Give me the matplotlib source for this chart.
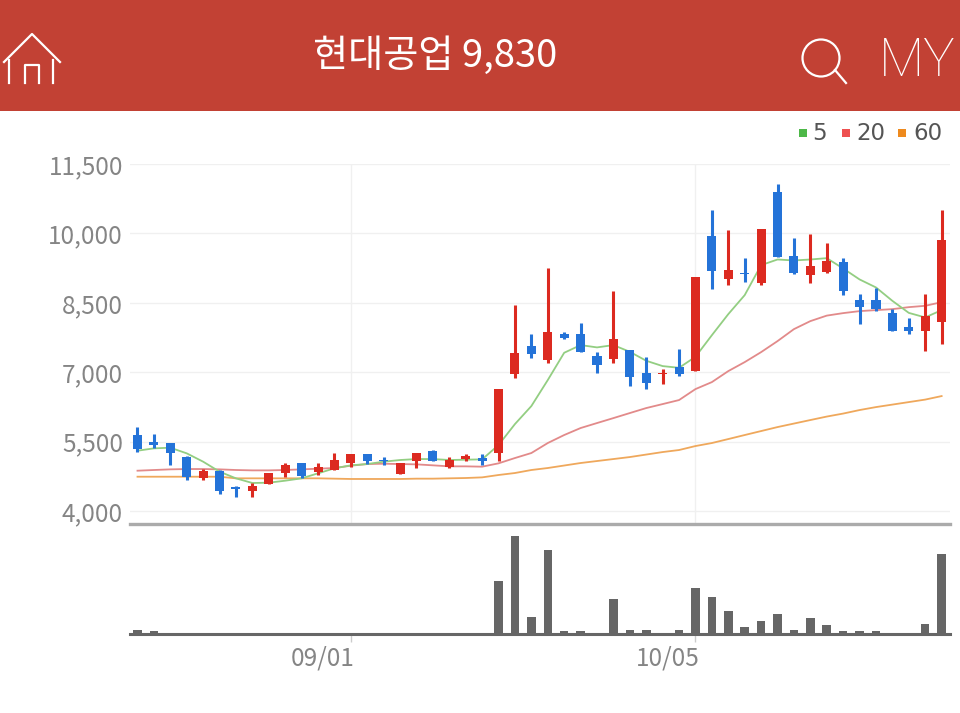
import matplotlib
matplotlib.use("Agg")
import matplotlib.pyplot as plt
from matplotlib.patches import Rectangle, Circle

plt.rcParams['font.family'] = ['Noto Sans CJK KR', 'DejaVu Sans']

title = "현대공업 9,830"
price_ticks = [4000, 5500, 7000, 8500, 10000, 11500]
date_ticks = [13, 34]
date_labels = ["09/01", "10/05"]

opens = [5642, 5497, 5475, 5173, 4706, 4864, 4512, 4432, 4577, 4827, 5043, 4849, 4892, 5043, 5225, 5108,
         4799, 5080, 5289, 4944, 5117, 5138, 5246, 6959, 7571, 7262, 7823, 7817, 7348, 7290, 7471, 6975,
         6953, 7117, 7017, 9940, 9011, 9134, 8918, 10897, 9508, 9104, 9169, 9378, 8558, 8558, 8283, 7974,
         7888, 8082]
closes = [5339, 5426, 5246, 4728, 4864, 4432, 4475, 4540, 4814, 5000, 4762, 4944, 5095, 5225, 5080, 5074,
          5030, 5259, 5080, 5102, 5188, 5086, 6635, 7406, 7391, 7873, 7743, 7428, 7147, 7722, 6901, 6771,
          6987, 6959, 9061, 9177, 9199, 9113, 10098, 9486, 9134, 9285, 9406, 8758, 8400, 8357, 7894, 7881,
          8218, 9847]
highs = [5821, 5663, 5475, 5194, 4907, 4886, 4540, 4598, 4814, 5043, 5043, 5043, 5259, 5225, 5225, 5173,
         5030, 5259, 5318, 5173, 5231, 5225, 6635, 8450, 7817, 9255, 7873, 8067, 7441, 8752, 7471, 7320,
         7067, 7506, 9061, 10502, 10063, 9471, 10098, 11063, 9903, 9977, 9782, 9471, 8687, 8823, 8357, 8162,
         8687, 10502]
lows = [5281, 5354, 4994, 4670, 4670, 4361, 4296, 4296, 4577, 4728, 4719, 4771, 4892, 4957, 5015, 4994,
        4799, 4922, 5080, 4922, 5074, 4994, 5074, 6866, 7298, 7203, 7709, 7428, 6987, 7203, 6706, 6635,
        6737, 6922, 7017, 8802, 8882, 8953, 8888, 9486, 9113, 8918, 9147, 8666, 8039, 8327, 7894, 7823,
        7456, 7614]

ma5 = [5303, 5354, 5368, 5246, 5066, 4850, 4706, 4605, 4612, 4655, 4706, 4814, 4922, 4987, 5015, 5066,
       5102, 5123, 5123, 5102, 5109, 5116, 5426, 5879, 6268, 6830, 7420, 7586, 7536, 7586, 7441, 7247,
       7132, 7095, 7333, 7800, 8255, 8666, 9314, 9436, 9415, 9436, 9465, 9242, 9005, 8832, 8542, 8282,
       8184, 8342]
ma20 = [4871, 4886, 4900, 4907, 4907, 4900, 4886, 4878, 4878, 4886, 4900, 4914, 4929, 4979, 5015, 5022,
        5015, 5008, 4987, 4965, 4965, 4958, 5030, 5145, 5253, 5469, 5642, 5793, 5901, 6008, 6117, 6225,
        6311, 6398, 6635, 6786, 7024, 7218, 7434, 7672, 7931, 8104, 8223, 8277, 8320, 8342, 8363, 8406,
        8435, 8514]
ma60 = [4741, 4741, 4741, 4741, 4741, 4741, 4706, 4706, 4706, 4706, 4706, 4706, 4699, 4692, 4692, 4692,
        4692, 4699, 4699, 4706, 4713, 4727, 4778, 4821, 4886, 4929, 4983, 5037, 5080, 5123, 5166, 5220,
        5274, 5318, 5404, 5469, 5555, 5642, 5728, 5814, 5890, 5966, 6041, 6106, 6182, 6246, 6300, 6354,
        6408, 6484]

volume = [4, 2.7, 0, 0, 0, 0, 0, 0, 0, 0, 0, 0, 0, 0, 0, 0, 0, 0, 0, 0, 0, 0,
          53, 98, 17, 84, 2.7, 2.7, 0, 35, 4, 4, 0, 4, 46, 37, 23, 7, 13, 20, 4, 16, 9, 2.7, 2.7, 2.7,
          0, 0, 10, 80]

legend_names = ["5", "20", "60"]
legend_colors = ["#4DB848", "#EE5050", "#EE8A1E"]

RED = "#DC2A20"
BLUE = "#2473D8"
W, H = 960, 713

fig = plt.figure(figsize=(9.6, 7.13), dpi=100, facecolor="white")

# page furniture in pixel coords
bg = fig.add_axes([0, 0, 1, 1])
bg.set_xlim(0, W)
bg.set_ylim(H, 0)
bg.axis("off")
bg.add_patch(Rectangle((0, 0), W, 111, color="#C24134", lw=0))
bg.text(435, 56, title, color="white", fontsize=27.5, ha="center", va="center")

home = [([4, 32, 60], [62, 34, 62]), ([9, 9], [60, 83]), ([53, 53], [60, 83]),
        ([25, 25, 39, 39], [83, 65, 65, 83])]
for hx, hy in home:
    bg.plot(hx, hy, color="white", lw=1.6)
bg.add_patch(Circle((821, 58), 18.5, fill=False, ec="white", lw=1.6))
bg.plot([835, 846], [70, 83], color="white", lw=1.6)
bg.text(917, 61, "MY", color="white", fontsize=38, ha="center", va="center",
        family="Roboto", fontweight="light")

for name, col, sx, tx in zip(legend_names, legend_colors, [803, 846, 902], [819, 871, 928]):
    bg.add_patch(Rectangle((sx - 4, 129), 8, 8, color=col, lw=0))
    bg.text(tx, 133, name, color="#555555", fontsize=16.5, ha="center", va="center", family="DejaVu Sans")

# candle panel
ax = fig.add_axes([130 / W, 1 - 524 / H, 820 / W, 360 / H])
ax.set_xlim(-0.457, 49.51)
ax.set_ylim(3719, 11500)
ax.patch.set_alpha(0)
for s in ax.spines.values():
    s.set_visible(False)
ax.spines["bottom"].set_visible(True)
ax.spines["bottom"].set_color("#ABABAB")
ax.spines["bottom"].set_linewidth(2.4)

ax.set_yticks(price_ticks)
ax.set_yticklabels(["{:,}".format(p) for p in price_ticks], color="#858585", fontsize=17.5)
ax.tick_params(axis="y", length=0, pad=5)
for lab in ax.get_yticklabels():
    lab.set_y(lab.get_position()[1])
ax.set_xticks(date_ticks)
ax.tick_params(axis="x", length=0, labelbottom=False)
ax.grid(True, color="#F0F0F0", lw=1)
ax.set_axisbelow(True)

xs = list(range(len(opens)))
ax.plot(xs, ma60, color="#EFA85C", lw=1.3, zorder=2)
ax.plot(xs, ma20, color="#E28A8A", lw=1.3, zorder=2)
ax.plot(xs, ma5, color="#93CE82", lw=1.3, zorder=2)

colors = [RED if c >= o else BLUE for o, c in zip(opens, closes)]
ax.vlines(xs, lows, highs, colors=colors, lw=2.2, zorder=3)
ax.bar(xs, [abs(c - o) for o, c in zip(opens, closes)], bottom=[min(o, c) for o, c in zip(opens, closes)],
       width=0.55, color=colors, zorder=4)

# volume panel
ax2 = fig.add_axes([130 / W, 1 - 633.5 / H, 820 / W, 109.5 / H])
ax2.set_xlim(-0.457, 49.51)
ax2.set_ylim(0, 109.5)
ax2.patch.set_alpha(0)
for s in ax2.spines.values():
    s.set_visible(False)
ax2.spines["bottom"].set_visible(True)
ax2.spines["bottom"].set_color("#666666")
ax2.spines["bottom"].set_linewidth(2.2)
ax2.bar(xs, volume, width=0.52, color="#666666")
ax2.set_yticks([])
ax2.set_xticks(date_ticks)
ax2.set_xticklabels([])
ax2.tick_params(axis="x", length=6, width=1, color="#CCCCCC")

# date labels sit left of their ticks
for t, lab in zip(date_ticks, date_labels):
    ax2.annotate(lab, xy=(t, 0), xycoords=("data", "axes fraction"), xytext=(3, -18), textcoords="offset points",
                 ha="right", va="center", color="#858585", fontsize=17.5)

fig.savefig("out.png", dpi=100)
